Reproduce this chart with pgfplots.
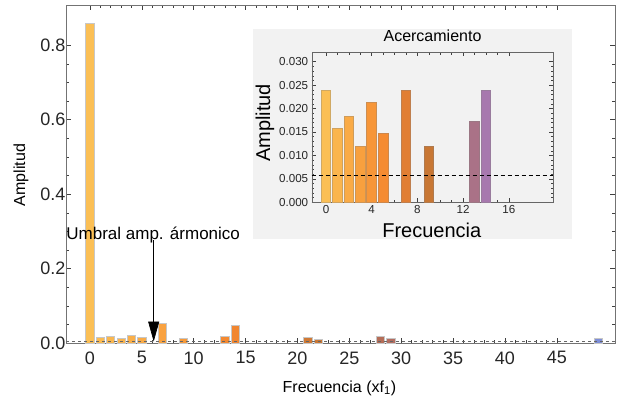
\documentclass[border=0pt]{standalone}
\usepackage{pgfplots}
\pgfplotsset{compat=1.18}
\usepackage{pgfplotstable}
\usepackage{fontspec}
\setmainfont{Liberation Sans}
\usetikzlibrary{arrows.meta}

% sunset-like gradient used to colour the bars by frequency index
\pgfplotsset{
  colormap={sunset}{
    rgb255(0pt)=(251,191,85);
    rgb255(14pt)=(249,163,64);
    rgb255(27pt)=(244,136,47);
    rgb255(36pt)=(224,126,51);
    rgb255(46pt)=(200,119,52);
    rgb255(58pt)=(180,108,90);
    rgb255(66pt)=(170,114,132);
    rgb255(71pt)=(168,120,173);
    rgb255(100pt)=(125,142,216)
  }
}

% amplitude spectrum (harmonics of f1)
\pgfplotstableread{
freq amp
0  0.860
1  0.0157
2  0.0183
3  0.0119
4  0.0214
5  0.0146
7  0.052
9  0.0119
13 0.0172
14 0.047
21 0.0140
22 0.0110
28 0.0180
29 0.0120
49 0.0120
}\spectrum

\newcommand{\umbral}{0.0058}

% one bar per table row, coloured from the colormap by its frequency
% #1 = row, #2 = frequency giving the top colour, #3 = bar width, #4 = extra options
\newcommand{\colourbar}[4]{%
  \pgfplotstablegetelem{#1}{freq}\of\spectrum
  \pgfmathsetmacro\cval{min(1000,\pgfplotsretval/#2*1000)}%
  \pgfmathtruncatemacro\nxt{#1+1}%
  \edef\temp{\noexpand\addplot[ybar, bar shift=0pt, bar width=#3,
    color of colormap={\cval\space of sunset}, fill=.,
    skip coords between index={0}{#1},
    skip coords between index={\nxt}{1000}, #4]
    table[x=freq, y=amp] {\noexpand\spectrum};}%
  \temp
}

\begin{document}
\begin{tikzpicture}
\useasboundingbox (0pt,0pt) rectangle (634pt,-402pt);

% ---------- main spectrum ----------
\begin{axis}[
  at={(66pt,-343pt)}, anchor=south west,
  scale only axis, width=549pt, height=338pt,
  xmin=-2.3, xmax=50.6, ymin=0, ymax=0.908,
  xtick={0,5,...,45}, minor x tick num=4,
  ytick={0,0.2,0.4,0.6,0.8}, minor y tick num=3,
  scaled y ticks=false,
  yticklabel style={/pgf/number format/fixed,
    /pgf/number format/fixed zerofill, /pgf/number format/precision=1,
    xshift=3pt},
  xticklabel style={yshift=-5pt},
  /pgf/number format/assume math mode=true,
  tick align=inside,
  major tick length=5pt, minor tick length=3pt,
  axis line style={black!55},
  every tick/.style={black!75},
  ticklabel style={font=\fontsize{18}{18}\selectfont, text=black!85},
  label style={font=\fontsize{16}{16}\selectfont},
  xlabel={Frecuencia (xf\textsubscript{1})},
  ylabel={Amplitud},
  x label style={at={(axis description cs:0.498,-0.133)}, anchor=center},
  y label style={at={(axis description cs:-0.082,0.497)}, anchor=center},
  colormap name=sunset,
  clip=false,
]
\pgfplotsinvokeforeach{0,...,14}{
  \colourbar{#1}{49}{0.8}{draw=black!22, line width=0.6pt}
}
\addplot[black!60, line width=0.6pt, dash pattern=on 3pt off 3pt]
  coordinates {(-2.3,\umbral) (50.6,\umbral)};
\node[font=\fontsize{17}{17}\selectfont] at (axis cs:6.1,0.29)
  {Umbral amp. ármonico};
\draw[-{Triangle[length=20pt,width=11pt]}, line width=0.7pt]
  (axis cs:6.15,0.276) -- (axis cs:6.15,0.004);
\end{axis}

% ---------- inset: zoom on the low amplitudes ----------
\fill[black!5] (253.3pt,-29pt) rectangle (571.7pt,-239.3pt);
\begin{axis}[
  at={(311.7pt,-202.3pt)}, anchor=south west,
  scale only axis, width=241.6pt, height=150pt,
  xmin=-1.25, xmax=19.9, ymin=0, ymax=0.032,
  xtick={0,4,8,12,16}, minor x tick num=3,
  ytick={0,0.005,0.01,0.015,0.02,0.025,0.03}, minor y tick num=4,
  scaled y ticks=false,
  yticklabel style={/pgf/number format/fixed,
    /pgf/number format/fixed zerofill, /pgf/number format/precision=3},
  /pgf/number format/assume math mode=true,
  tick align=inside,
  major tick length=4pt, minor tick length=2.5pt,
  axis line style={black!60},
  every tick/.style={black!75},
  ticklabel style={font=\fontsize{11.6}{12}\selectfont, text=black!85},
  label style={font=\fontsize{20}{20}\selectfont},
  title style={font=\fontsize{16}{16}\selectfont, at={(axis description cs:0.5,1.07)}, anchor=center},
  title={Acercamiento},
  xlabel={Frecuencia},
  ylabel={Amplitud},
  x label style={at={(axis description cs:0.497,-0.185)}, anchor=center},
  y label style={at={(axis description cs:-0.193,0.529)}, anchor=center},
  colormap name=sunset,
  clip=true,
]
\pgfplotsinvokeforeach{0,...,9}{
  \colourbar{#1}{19.6}{0.85}{draw=.!65!gray, line width=0.8pt,
    y filter/.expression={min(y,0.0239)}}
}
\addplot[black, line width=0.6pt, dash pattern=on 4pt off 3pt]
  coordinates {(-1.25,\umbral) (19.9,\umbral)};
\end{axis}
\end{tikzpicture}
\end{document}
